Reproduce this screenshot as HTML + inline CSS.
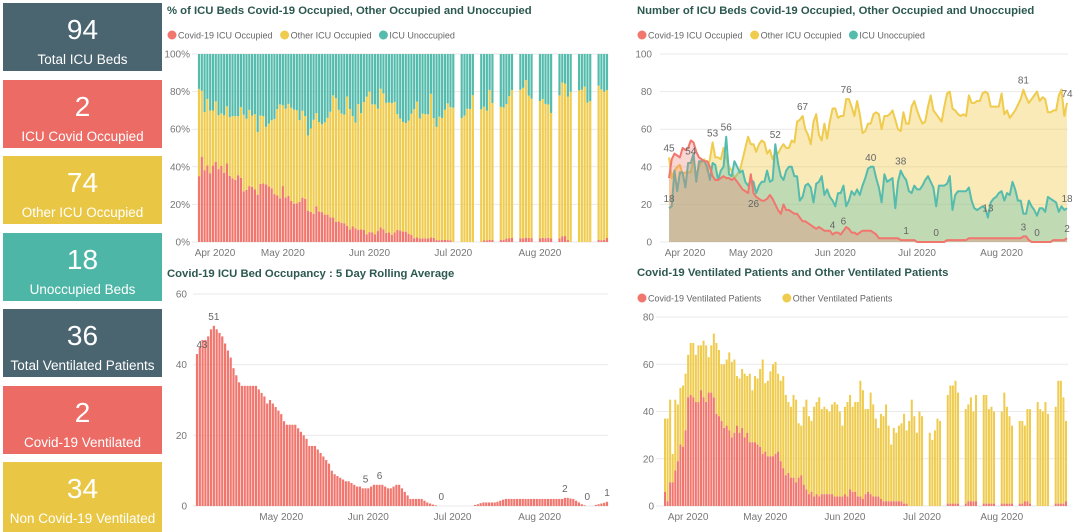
<!DOCTYPE html>
<html><head><meta charset="utf-8">
<style>
body{margin:0;width:1080px;height:528px;background:#fff;overflow:hidden;font-family:"Liberation Sans",sans-serif;position:relative}
.card{position:absolute;left:3px;width:159px;height:68px;color:#fff;text-align:center}
.card .num{position:absolute;left:0;right:0;top:12px;font-size:28px;line-height:30px}
.card .lbl{position:absolute;left:0;right:0;top:49px;font-size:13.5px;line-height:16px}
.title{position:absolute;font-size:11.3px;font-weight:bold;color:#2c5850;white-space:nowrap}
svg{position:absolute;left:0;top:0}
</style></head><body>
<div class="card" style="top:3px;background:#4a6470"><div class="num">94</div><div class="lbl">Total ICU Beds</div></div>
<div class="card" style="top:80px;background:#ec6b65"><div class="num">2</div><div class="lbl">ICU Covid Occupied</div></div>
<div class="card" style="top:156px;background:#e9c744"><div class="num">74</div><div class="lbl">Other ICU Occupied</div></div>
<div class="card" style="top:233px;background:#4db6a6"><div class="num">18</div><div class="lbl">Unoccupied Beds</div></div>
<div class="card" style="top:309px;background:#4a6470"><div class="num">36</div><div class="lbl">Total Ventilated Patients</div></div>
<div class="card" style="top:386px;background:#ec6b65"><div class="num">2</div><div class="lbl">Covid-19 Ventilated</div></div>
<div class="card" style="top:462px;height:70px;background:#e9c744"><div class="num">34</div><div class="lbl">Non Covid-19 Ventilated</div></div>

<div class="title" style="left:167px;top:5px">% of ICU Beds Covid-19 Occupied, Other Occupied and Unoccupied</div>
<div class="title" style="left:637px;top:5px">Number of ICU Beds Covid-19 Occupied, Other Occupied and Unoccupied</div>
<div class="title" style="left:167px;top:268px">Covid-19 ICU Bed Occupancy : 5 Day Rolling Average</div>
<div class="title" style="left:637px;top:267px">Covid-19 Ventilated Patients and Other Ventilated Patients</div>

<svg id="s" width="1080" height="528"></svg>
<script>
const covidBeds=[34,44,47,46,45,50,49,50,54,53,48,45,44,43,43,40,35,33,33,34,35,34,34,33,34,32,30,28,27,26,36,26,24,23,22,22,23,25,23,20,17,15,20,17,17,16,15,15,13,11,11,10,9,8,7,8,7,6,6,6,4,5,5,4,6,8,7,5,5,4,5,6,6,6,6,5,4,2,2,2,2,2,2,2,2,1,1,1,1,1,1,0,0,0,0,0,0,0,0,0,0,0,1,1,1,1,1,1,1,1,2,2,2,2,2,2,2,2,2,2,2,2,2,2,2,2,2,2,2,2,3,3,1,0,0,0,0,0,0,0,0,1,1,1,1,1,2];
const otherBeds=[45,34,38,40,41,36,37,37,37,44,35,40,43,44,38,44,53,45,45,44,50,45,40,38,34,36,38,44,50,56,52,52,48,52,54,53,47,49,44,48,47,50,52,50,50,54,53,64,65,67,60,57,52,64,68,57,54,63,55,64,71,71,66,67,67,76,76,72,67,75,68,58,59,63,63,68,69,68,60,67,67,68,70,65,60,59,69,63,63,72,75,70,66,63,64,72,78,70,68,66,64,72,79,80,71,70,68,67,68,67,78,74,74,75,75,79,80,79,72,72,72,72,79,68,70,66,68,70,73,76,81,77,74,76,78,80,75,77,76,69,69,70,70,78,81,67,74];
const unoccBeds=[18,19,38,27,37,37,29,42,42,47,32,43,43,43,40,33,42,41,33,38,40,56,36,35,43,40,37,38,32,30,33,32,26,30,32,32,38,32,33,52,42,35,33,38,40,40,35,35,22,24,30,31,29,21,31,32,35,25,28,24,22,19,26,26,30,19,22,27,25,28,25,30,34,39,40,40,34,29,21,36,32,33,34,18,32,38,35,33,27,26,30,28,28,30,33,35,32,29,19,30,30,30,31,35,17,25,27,27,27,27,29,22,18,17,18,19,18,13,21,23,24,26,27,22,26,25,32,28,22,22,15,15,22,19,17,14,18,18,16,24,23,22,21,16,19,17,18];
const pctGapDays=[92,93,99,100,106,107,113,114,120,121,127,128,134,135,141,142];
const rolling=[43,45,47,47,48,50,51,50,49,48,46,44,42,39,37,35,34,34,34,34,34,34,33,32,31,29,30,29,28,27,26,24,23,23,23,23,22,21,20,19,17,17,17,16,15,14,13,12,10,9,8.5,8,7.5,7,7,6.5,6,5.5,5.5,5,5,5,5.5,6,6,6,6,5.5,5,5,5.5,6,6,5,4,3,2,2,2,2,2,1.5,1,0.7,0.4,0.2,0,0,0,0,0,0,0,0,0,0,0,0,0,0.3,0.5,0.8,1,1,1,1,1,1.2,1.5,1.8,2,2,2,2,2,2,2,2,2,2,2,2,2,2,2,2,2,2,2,2,2,2.3,2.3,2.1,2,1.5,1,0.5,0.2,0,0,0,0.3,0.5,0.7,0.9,1.2];
const rollingLabelIdx=[0,6,60,65,87,131,139,146];
const ventTotal=[37,37,45,22,45,43,50,51,56,64,69,69,64,68,68,70,68,63,68,73,69,66,60,60,62,65,61,62,55,54,58,56,55,56,49,55,54,58,62,52,53,57,60,61,56,53,55,47,44,42,47,45,35,34,42,45,38,36,42,44,46,41,42,41,40,43,44,43,40,34,42,44,47,42,44,44,53,49,41,41,48,43,37,33,39,38,43,34,26,33,31,34,35,39,32,36,45,38,31,40,38,null,null,31,28,32,37,36,null,null,47,51,51,53,48,null,null,41,43,46,40,47,null,null,47,47,41,42,40,null,null,40,48,42,38,34,null,null,36,36,34,41,41,null,null,44,41,40,44,39,null,null,42,53,53,46,36];
const ventCovid=[6,2,10,10,15,19,26,25,32,46,47,46,44,44,49,46,44,48,48,46,39,38,36,33,34,32,29,31,34,31,33,29,31,27,27,27,26,25,22,23,21,21,21,22,23,19,16,13,14,12,12,10,12,13,9,7,5,6,4,5,4,5,5,5,5,5,4,4,4,4,5,4,7,6,6,4,4,3,5,6,5,4,4,4,3,2,2,2,2,2,2,2,2,1,1,0,0,0,0,0,0,null,null,0,0,0,0,0,null,null,1,1,1,1,1,null,null,1,2,2,2,2,null,null,1,1,1,1,1,null,null,1,1,1,1,1,null,null,1,1,2,2,1,null,null,0,0,0,0,0,null,null,1,1,1,1,2];
const pctTicks=["0%","20%","40%","60%","80%","100%"];
const countTicks=[0,20,40,60,80,100];
const rollTicks=[0,20,40,60];
const ventTicks=[0,20,40,60,80];
const monthLabels=["Apr 2020","May 2020","Jun 2020","Jul 2020","Aug 2020"];
const monthDay=[0,30,61,91,122];
const ventMonthIdx=[9,39,70,100,131];
const otherLabelIdx=[0,16,49,65,130,146];
const covidLabelIdx=[8,31,60,64,87,98,130,135,146];
const unoccLabelIdx=[0,21,39,74,85,117,146];

const S=document.getElementById('s');const NS='http://www.w3.org/2000/svg';
const RED='#f0766e',YEL='#efcb4e',TEAL='#55bcad',GRID='#e9e9e9',TXT='#777';
function mk(t,a,p){const e=document.createElementNS(NS,t);for(const k in a)e.setAttribute(k,a[k]);(p||S).appendChild(e);return e;}
function txt(x,y,s,anchor,size,fill){const e=mk('text',{x:x,y:y,'text-anchor':anchor||'middle','font-size':size||10,fill:fill||TXT,'font-family':'Liberation Sans, sans-serif'});e.textContent=s;return e;}
function legend(x,y,items){let cx=x;items.forEach(it=>{const c=mk('circle',{cx:cx+5,cy:y,r:4.5,fill:it[1]});


const t=txt(cx+11,y+3.5,it[0],'start',9,'#666');


cx+=11+it[0].length*4.6+5;});}
function yAxis(x0,x1,yFn,ticks,labels,lx){ticks.forEach((v,i)=>{const y=yFn(v);const l=mk('line',{x1:x0,x2:x1,y1:y,y2:y,stroke:GRID,'stroke-width':1});


const t=txt(lx,y+3.5,labels[i],'end',10);

});}
function xLabels(xFn,idx,y,skipFirst){idx.forEach((d,i)=>{if(skipFirst&&i===0)return;const t=txt(xFn(d),y,monthLabels[i],'middle',10);

});}

/* Chart 1 */
(function(){const N=covidBeds.length,x0=199,x1=607,yT=54,yB=242;
const xs=d=>x0+(x1-x0)*d/(N-1),ys=p=>yB-(yB-yT)*p/100,bw=(x1-x0)/(N-1)*0.78;
legend(167,35,[["Covid-19 ICU Occupied",RED],["Other ICU Occupied",YEL],["ICU Unoccupied",TEAL]]);
yAxis(192,608,ys,[0,20,40,60,80,100],pctTicks,190);
for(let d=0;d<N;d++){if(pctGapDays.includes(d))continue;const tot=covidBeds[d]+otherBeds[d]+unoccBeds[d];
const pc=covidBeds[d]/tot*100,po=otherBeds[d]/tot*100;const x=xs(d)-bw/2;
const r1=mk('rect',{x:x,y:ys(pc),width:bw,height:ys(0)-ys(pc),fill:RED});


const r2=mk('rect',{x:x,y:ys(pc+po),width:bw,height:ys(pc)-ys(pc+po),fill:YEL});


const r3=mk('rect',{x:x,y:ys(100),width:bw,height:ys(pc+po)-ys(100),fill:TEAL});

}
xLabels(d=>Math.max(xs(d),215),monthDay,256);})();

/* Chart 2 */
(function(){const N=otherBeds.length,x0=669,x1=1067,yT=54,yB=242;
const xs=d=>x0+(x1-x0)*d/(N-1),ys=v=>yB-(yB-yT)*v/100;
legend(637,35,[["Covid-19 ICU Occupied",RED],["Other ICU Occupied",YEL],["ICU Unoccupied",TEAL]]);
yAxis(660,1068,ys,countTicks,countTicks.map(String),652);
function series(arr,col,name,op){let p='';arr.forEach((v,i)=>{p+=(i?'L':'M')+xs(i).toFixed(1)+','+ys(v).toFixed(1);});
const a=mk('path',{d:p+'L'+xs(N-1)+','+yB+'L'+xs(0)+','+yB+'Z',fill:col,'fill-opacity':op,stroke:'none'});


const l=mk('path',{d:p,fill:'none',stroke:col,'stroke-width':2,'stroke-linejoin':'round'});

}
series(otherBeds,YEL,'other-icu',0.4);series(unoccBeds,TEAL,'unoccupied',0.35);series(covidBeds,RED,'covid-icu',0.3);
function labs(arr,idx,dyHi,dyLo){idx.forEach(i=>{const v=arr[i];const t=txt(xs(i),ys(v)+(v>10?dyHi:dyLo),String(v),'middle',10,'#666');

});}
labs(otherBeds,otherLabelIdx,-6,-6);labs(covidBeds,covidLabelIdx,14,-6);labs(unoccBeds,unoccLabelIdx,-6,-6);
xLabels(d=>Math.max(xs(d),685),monthDay,256);})();

/* Chart 3 */
(function(){const N=rolling.length,x0=197,x1=607,yT=294,yB=506;
const xs=d=>x0+(x1-x0)*d/(N-1),ys=v=>yB-(yB-yT)*v/60,bw=(x1-x0)/(N-1)*0.78;
yAxis(193,608,ys,rollTicks,rollTicks.map(String),187);
rolling.forEach((v,d)=>{const r=mk('rect',{x:xs(d)-bw/2,y:ys(v),width:bw,height:ys(0)-ys(v),fill:RED});

});
rollingLabelIdx.forEach(i=>{const t=txt(xs(i)+(i===0?5:0),ys(rolling[i])-6,String(Math.round(rolling[i])),'middle',10,'#666');

});
xLabels(xs,monthDay,520,true);})();

/* Chart 4 */
(function(){const N=ventTotal.length,x0=665,x1=1066,yT=317,yB=506;
const xs=d=>x0+(x1-x0)*d/(N-1),ys=v=>yB-(yB-yT)*v/80,bw=(x1-x0)/(N-1)*0.78;
legend(637,298,[["Covid-19 Ventilated Patients",RED],["Other Ventilated Patients",YEL]]);
yAxis(656,1068,ys,ventTicks,ventTicks.map(String),654);
ventTotal.forEach((t,d)=>{if(t===null)return;const c=ventCovid[d]||0;const x=xs(d)-bw/2;
const r1=mk('rect',{x:x,y:ys(t),width:bw,height:ys(c)-ys(t),fill:YEL});


const r2=mk('rect',{x:x,y:ys(c),width:bw,height:ys(0)-ys(c),fill:RED});

});
xLabels(xs,ventMonthIdx,520);})();
</script>
</body></html>
